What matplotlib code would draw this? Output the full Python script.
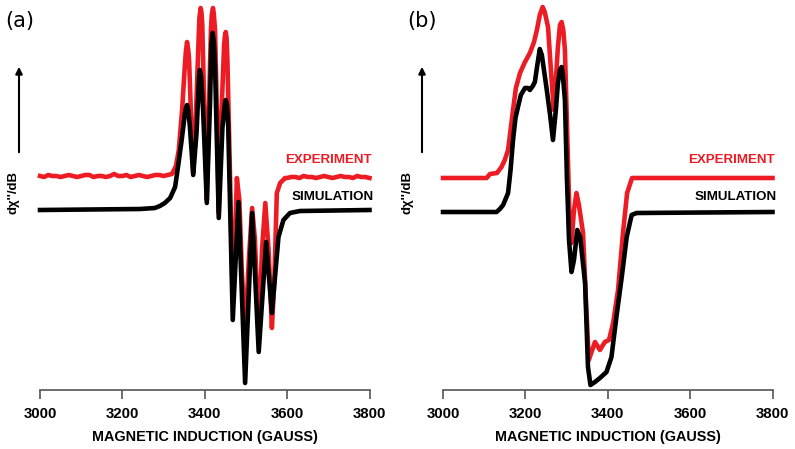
#epr spectra of the two samples, experiment vs simulation
import matplotlib.pyplot as plt

# panel (a) experiment: field in gauss, signal in arbitrary units
field_a_exp = [3000, 3010, 3020, 3030, 3040, 3050, 3060, 3070, 3080, 3090, 3100,
               3110, 3120, 3130, 3140, 3150, 3160, 3170, 3180, 3190, 3200, 3210,
               3220, 3230, 3240, 3250, 3260, 3270, 3280, 3290, 3300, 3310, 3320,
               3323, 3330, 3337, 3345, 3351, 3354, 3357, 3360, 3362, 3367, 3372,
               3379, 3385, 3387, 3390, 3392, 3394, 3399, 3405, 3410, 3415, 3417,
               3420, 3422, 3425, 3430, 3434, 3440, 3447, 3449, 3451, 3453, 3455,
               3461, 3468, 3473, 3478, 3484, 3490, 3498, 3507, 3515, 3522, 3531,
               3539, 3547, 3555, 3563, 3569, 3575, 3583, 3595,
               3600, 3610, 3620, 3630, 3640, 3650, 3660, 3670, 3680, 3690, 3700,
               3710, 3720, 3730, 3740, 3750, 3760, 3770, 3780, 3790, 3800]
sig_a_exp = [214, 213, 215, 214, 214, 213, 214, 215, 214, 213, 214,
             215, 215, 213, 214, 214, 213, 214, 216, 214, 214, 215,
             213, 214, 215, 214, 213, 214, 215, 215, 214, 215, 216,
             218, 224, 240, 280, 320, 338, 348, 340, 330, 270, 217,
             280, 350, 372, 382, 378, 365, 280, 190, 280, 360, 375,
             382, 376, 360, 270, 177, 270, 345, 354, 358, 352, 330,
             220, 90, 140, 212, 190, 120, 55, 130, 182, 150, 50,
             140, 187, 140, 62, 110, 197, 207, 212,
             212, 213, 213, 212, 214, 213, 213, 212, 213, 214, 213,
             212, 213, 214, 213, 213, 212, 214, 213, 213, 212]

# panel (a) simulation
field_a_sim = [3000, 3243, 3279, 3291, 3303, 3316, 3328, 3335, 3344, 3352, 3355,
               3357, 3360, 3364, 3372, 3380, 3386, 3388, 3391, 3396, 3405, 3413,
               3416, 3419, 3422, 3425, 3434, 3443, 3449, 3451, 3454, 3457, 3468,
               3482, 3498, 3515, 3531, 3549, 3563, 3579, 3591, 3607, 3631, 3800]
sig_a_sim = [180, 181, 182, 184, 187, 192, 203, 223, 250, 277, 283,
             285, 280, 263, 215, 257, 312, 320, 314, 280, 187, 290,
             345, 357, 348, 323, 172, 263, 287, 290, 285, 263, 70,
             188, 7, 177, 38, 148, 77, 153, 170, 177, 179, 180]

# panel (b) experiment
field_b_exp = [3000, 3106, 3114, 3131, 3142, 3150, 3158, 3164, 3170, 3177, 3187,
               3199, 3211, 3221, 3228, 3235, 3242, 3247, 3255, 3262, 3269, 3274,
               3279, 3284, 3288, 3292, 3296, 3302, 3307, 3312, 3318, 3324, 3330,
               3340, 3347, 3354, 3369, 3381, 3393, 3403, 3413, 3425, 3437, 3447,
               3459, 3800]
sig_b_exp = [212, 212, 216, 217, 223, 230, 240, 260, 280, 302, 317,
             328, 337, 348, 360, 375, 383, 378, 363, 320, 280, 310,
             343, 365, 368, 360, 340, 250, 175, 147, 180, 197, 185,
             157, 90, 30, 48, 40, 48, 50, 67, 100, 157, 197,
             212, 212]

# panel (b) simulation
field_b_sim = [3000, 3130, 3138, 3146, 3153, 3158, 3164, 3170, 3176, 3182, 3189,
               3199, 3206, 3211, 3218, 3223, 3229, 3235, 3240, 3252, 3260, 3267,
               3274, 3279, 3284, 3288, 3291, 3296, 3301, 3306, 3312, 3318, 3326,
               3333, 3345, 3352, 3358, 3369, 3381, 3397, 3409, 3421, 3434, 3446,
               3458, 3470, 3800]
sig_b_sim = [178, 178, 181, 185, 192, 197, 220, 250, 272, 283, 295,
             302, 302, 300, 304, 308, 325, 341, 335, 300, 275, 250,
             280, 307, 320, 323, 315, 290, 210, 150, 118, 130, 160,
             153, 107, 23, 5, 8, 12, 18, 33, 73, 113, 153,
             175, 177, 178]

ticks = [3000, 3200, 3400, 3600, 3800]
red = "#ED1C24"
axis_grey = "#555555"
bold_font = "Liberation Sans"

fig = plt.figure(figsize=(7.95, 4.49), dpi=100)


def panel(left, f_exp, s_exp, f_sim, s_sim, tag, tag_x, arrow_x, ylab_x, txt_right):
    #one spectrum panel, the axes only shows the bottom line with ticks
    ax = fig.add_axes([left, 59 / 449, 329.5 / 795, 390 / 449])
    ax.plot(f_exp, s_exp, color=red, lw=3.3, solid_joinstyle="round", clip_on=False, zorder=2)
    ax.plot(f_sim, s_sim, color="black", lw=3.3, solid_joinstyle="round", clip_on=False, zorder=3)
    ax.set_xlim(3000, 3800)
    ax.set_ylim(0, 390)
    for side in ["left", "top", "right"]:
        ax.spines[side].set_visible(False)
    ax.spines["bottom"].set_color(axis_grey)
    ax.spines["bottom"].set_linewidth(1.2)
    ax.set_yticks([])
    ax.set_xticks(ticks)
    ax.set_xticklabels([str(t) for t in ticks], fontfamily=bold_font,
                       fontweight="bold", fontsize=10.8)
    ax.tick_params(axis="x", direction="out", length=6.5, width=1.2,
                   color=axis_grey, pad=6)

    # x label
    fig.text(left + 329.5 / 795 / 2, 1 - 437.5 / 449, "MAGNETIC INDUCTION (GAUSS)",
             ha="center", va="center", fontfamily=bold_font, fontweight="bold", fontsize=10.4)

    # panel tag
    fig.text(tag_x / 795, 1 - 21 / 449, tag, ha="center", va="center",
             fontfamily="DejaVu Sans", fontsize=15)

    # the y axis is only an arrow with the label under it
    fig.patches.append(plt.matplotlib.patches.FancyArrowPatch(
        (arrow_x / 795, 1 - 155 / 449), (arrow_x / 795, 1 - 64 / 449),
        transform=fig.transFigure, arrowstyle="-|>", mutation_scale=10,
        lw=1.5, color="black"))
    fig.text(ylab_x / 795, 1 - 192 / 449, "dχ''/dB", rotation=90, ha="center", va="center",
             fontfamily=bold_font, fontweight="bold", fontsize=9.5)

    # curve names
    fig.text(txt_right[0] / 795, 1 - 160 / 449, "EXPERIMENT", color=red, ha="right", va="center",
             fontfamily=bold_font, fontweight="bold", fontsize=9.6)
    fig.text(txt_right[1] / 795, 1 - 197 / 449, "SIMULATION", color="black", ha="right", va="center",
             fontfamily=bold_font, fontweight="bold", fontsize=9.6)
    return ax


ax_a = panel(40 / 795, field_a_exp, sig_a_exp, field_a_sim, sig_a_sim,
             "(a)", 20, 19, 13, (372, 374))
ax_b = panel(443 / 795, field_b_exp, sig_b_exp, field_b_sim, sig_b_sim,
             "(b)", 422, 422, 408, (775, 777))

fig.savefig("out.png", dpi=100)
